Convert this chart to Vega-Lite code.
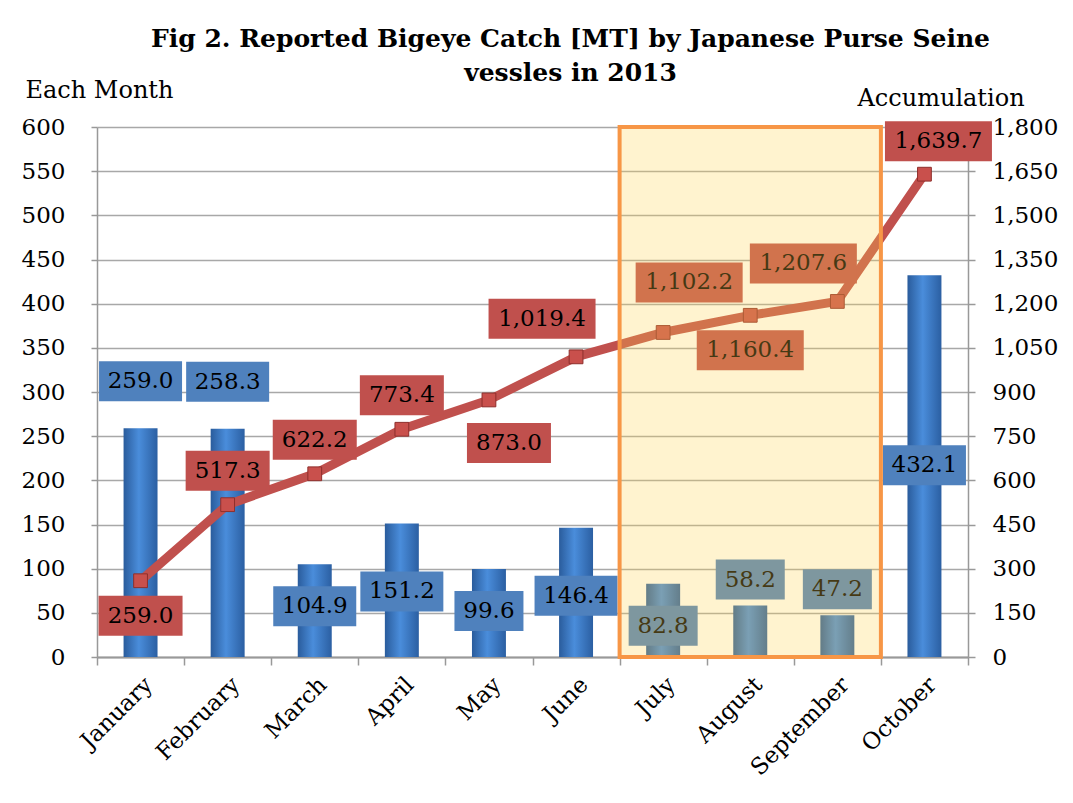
{
  "$schema": "https://vega.github.io/schema/vega-lite/v6.json",
  "width": 871,
  "height": 530,
  "autosize": {"type": "none"},
  "padding": {"left": 97, "top": 127, "right": 105, "bottom": 146},
  "background": "white",
  "config": {"font": "DejaVu Serif", "view": {"stroke": null}},
  "title": {
    "text": ["Fig 2. Reported Bigeye Catch [MT] by Japanese Purse Seine", "vessles in 2013"],
    "font": "DejaVu Serif", "fontSize": 25, "fontWeight": "bold", "color": "#000",
    "anchor": "middle", "frame": "group", "dx": 38, "offset": -8, "lineHeight": 34
  },
  "data": {"values": [
    {"month": "January", "catch": 259.0, "accum": 259.0, "barPos": "above", "linePos": "below"},
    {"month": "February", "catch": 258.3, "accum": 517.3, "barPos": "above", "linePos": "above"},
    {"month": "March", "catch": 104.9, "accum": 622.2, "barPos": "inside", "linePos": "above"},
    {"month": "April", "catch": 151.2, "accum": 773.4, "barPos": "deep", "linePos": "above"},
    {"month": "May", "catch": 99.6, "accum": 873.0, "barPos": "inside", "linePos": "belowRight"},
    {"month": "June", "catch": 146.4, "accum": 1019.4, "barPos": "deep", "linePos": "aboveLeft"},
    {"month": "July", "catch": 82.8, "accum": 1102.2, "barPos": "inside", "linePos": "highRight"},
    {"month": "August", "catch": 58.2, "accum": 1160.4, "barPos": "over", "linePos": "below"},
    {"month": "September", "catch": 47.2, "accum": 1207.6, "barPos": "over", "linePos": "aboveLeft"},
    {"month": "October", "catch": 432.1, "accum": 1639.7, "barPos": "middle", "linePos": "aboveRight"}
  ]},
  "layer": [
    {
      "encoding": {
        "x": {
          "field": "month", "type": "ordinal", "sort": null,
          "scale": {"domain": ["January","February","March","April","May","June","July","August","September","October"], "paddingInner": 0, "paddingOuter": 0},
          "axis": {
            "title": null, "labelAngle": -45, "labelAlign": "right", "labelBaseline": "top",
            "labelFont": "DejaVu Serif", "labelFontStyle": "normal", "labelFontSize": 23, "labelColor": "#000",
            "labelPadding": 8, "tickBand": "extent", "tickSize": 8, "tickColor": "#999", "tickWidth": 1.5,
            "domainColor": "#999", "domainWidth": 2, "grid": false
          }
        },
        "y": {
          "field": "catch", "type": "quantitative", "stack": null,
          "scale": {"domain": [0, 600], "nice": false, "zero": true},
          "axis": {
            "orient": "left", "values": [0,50,100,150,200,250,300,350,400,450,500,550,600],
            "title": "Each Month", "titleAngle": 0, "titleAlign": "left", "titleBaseline": "middle",
            "titleX": -72, "titleY": -37, "titleFont": "DejaVu Serif", "titleFontSize": 24,
            "titleFontWeight": "normal", "titleColor": "#000",
            "labelFont": "DejaVu Serif", "labelFontSize": 23, "labelColor": "#000", "labelPadding": 26,
            "tickSize": 6, "tickColor": "#999", "tickWidth": 1.5, "domainColor": "#999", "domainWidth": 1.5,
            "grid": true, "gridColor": "#a8a8a8", "gridWidth": 1.5
          }
        }
      },
      "layer": [
        {
          "mark": {"type": "bar", "width": {"band": 0.39},
            "color": {"gradient": "linear", "x1": 0, "y1": 0, "x2": 1, "y2": 0,
              "stops": [{"offset": 0, "color": "#2a5c9c"}, {"offset": 0.45, "color": "#4a8ddb"}, {"offset": 1, "color": "#2b5fa2"}]}}
        },
        {
          "transform": [{"filter": "datum.barPos === 'above'"}],
          "mark": {"type": "bar", "color": "#4f81bd", "yOffset": -67, "y2Offset": -27},
          "encoding": {"y2": {"field": "catch"}, "size": {"field": "catch", "type": "quantitative", "scale": {"type": "threshold", "domain": [100], "range": [69, 83]}, "legend": null}}
        },
        {
          "transform": [{"filter": "datum.barPos === 'above'"}],
          "mark": {"type": "text", "dy": -47, "fontSize": 23, "font": "DejaVu Serif", "color": "#000", "baseline": "middle"},
          "encoding": {"text": {"field": "catch", "type": "quantitative", "format": ".1f"}}
        },
        {
          "transform": [{"filter": "datum.barPos === 'inside'"}],
          "mark": {"type": "bar", "color": "#4f81bd", "yOffset": 22, "y2Offset": 62},
          "encoding": {"y2": {"field": "catch"}, "size": {"field": "catch", "type": "quantitative", "scale": {"type": "threshold", "domain": [100], "range": [69, 83]}, "legend": null}}
        },
        {
          "transform": [{"filter": "datum.barPos === 'inside'"}],
          "mark": {"type": "text", "dy": 42, "fontSize": 23, "font": "DejaVu Serif", "color": "#000", "baseline": "middle"},
          "encoding": {"text": {"field": "catch", "type": "quantitative", "format": ".1f"}}
        },
        {
          "transform": [{"filter": "datum.barPos === 'deep'"}],
          "mark": {"type": "bar", "color": "#4f81bd", "yOffset": 48, "y2Offset": 88},
          "encoding": {"y2": {"field": "catch"}, "size": {"field": "catch", "type": "quantitative", "scale": {"type": "threshold", "domain": [100], "range": [69, 83]}, "legend": null}}
        },
        {
          "transform": [{"filter": "datum.barPos === 'deep'"}],
          "mark": {"type": "text", "dy": 68, "fontSize": 23, "font": "DejaVu Serif", "color": "#000", "baseline": "middle"},
          "encoding": {"text": {"field": "catch", "type": "quantitative", "format": ".1f"}}
        },
        {
          "transform": [{"filter": "datum.barPos === 'over'"}],
          "mark": {"type": "bar", "color": "#4f81bd", "yOffset": -46, "y2Offset": -6},
          "encoding": {"y2": {"field": "catch"}, "size": {"field": "catch", "type": "quantitative", "scale": {"type": "threshold", "domain": [100], "range": [69, 83]}, "legend": null}}
        },
        {
          "transform": [{"filter": "datum.barPos === 'over'"}],
          "mark": {"type": "text", "dy": -26, "fontSize": 23, "font": "DejaVu Serif", "color": "#000", "baseline": "middle"},
          "encoding": {"text": {"field": "catch", "type": "quantitative", "format": ".1f"}}
        },
        {
          "transform": [{"filter": "datum.barPos === 'middle'"}],
          "mark": {"type": "bar", "color": "#4f81bd", "yOffset": 170, "y2Offset": 210},
          "encoding": {"y2": {"field": "catch"}, "size": {"field": "catch", "type": "quantitative", "scale": {"type": "threshold", "domain": [100], "range": [69, 83]}, "legend": null}}
        },
        {
          "transform": [{"filter": "datum.barPos === 'middle'"}],
          "mark": {"type": "text", "dy": 190, "fontSize": 23, "font": "DejaVu Serif", "color": "#000", "baseline": "middle"},
          "encoding": {"text": {"field": "catch", "type": "quantitative", "format": ".1f"}}
        }
      ]
    },
    {
      "encoding": {
        "x": {"field": "month", "type": "ordinal", "sort": null,
          "scale": {"domain": ["January","February","March","April","May","June","July","August","September","October"], "paddingInner": 0, "paddingOuter": 0}},
        "y": {
          "field": "accum", "type": "quantitative", "stack": null,
          "scale": {"domain": [0, 1800], "nice": false, "zero": true},
          "axis": {
            "orient": "right", "values": [0,150,300,450,600,750,900,1050,1200,1350,1500,1650,1800], "format": ",.0f",
            "title": "Accumulation", "titleAngle": 0, "titleAlign": "left", "titleBaseline": "middle",
            "titleX": -111, "titleY": -29, "titleFont": "DejaVu Serif", "titleFontSize": 24,
            "titleFontWeight": "normal", "titleColor": "#000",
            "labelFont": "DejaVu Serif", "labelFontSize": 23, "labelColor": "#000", "labelPadding": 17,
            "tickSize": 7, "tickColor": "#999", "tickWidth": 1.5, "domainColor": "#999", "domainWidth": 1.5,
            "grid": false
          }
        }
      },
      "layer": [
        {
          "mark": {"type": "line", "color": "#c0504d", "strokeWidth": 9},
          "encoding": {"order": {"field": "accum", "type": "quantitative"}}
        },
        {
          "mark": {"type": "point", "shape": "square", "filled": true, "size": 190, "color": "#c9504c", "stroke": "#8e2f2c", "strokeWidth": 1, "opacity": 1}
        },
        {
          "transform": [{"filter": "datum.linePos === 'below'"}],
          "mark": {"type": "bar", "color": "#c0504d", "yOffset": 15, "y2Offset": 55},
          "encoding": {"y2": {"field": "accum"}, "size": {"field": "accum", "type": "quantitative", "scale": {"type": "threshold", "domain": [1000], "range": [84, 107]}, "legend": null}}
        },
        {
          "transform": [{"filter": "datum.linePos === 'below'"}],
          "mark": {"type": "text", "dy": 35, "fontSize": 23, "font": "DejaVu Serif", "color": "#000", "baseline": "middle"},
          "encoding": {"text": {"field": "accum", "type": "quantitative", "format": ",.1f"}}
        },
        {
          "transform": [{"filter": "datum.linePos === 'above'"}],
          "mark": {"type": "bar", "color": "#c0504d", "yOffset": -54, "y2Offset": -14},
          "encoding": {"y2": {"field": "accum"}, "size": {"field": "accum", "type": "quantitative", "scale": {"type": "threshold", "domain": [1000], "range": [84, 107]}, "legend": null}}
        },
        {
          "transform": [{"filter": "datum.linePos === 'above'"}],
          "mark": {"type": "text", "dy": -34, "fontSize": 23, "font": "DejaVu Serif", "color": "#000", "baseline": "middle"},
          "encoding": {"text": {"field": "accum", "type": "quantitative", "format": ",.1f"}}
        },
        {
          "transform": [{"filter": "datum.linePos === 'belowRight'"}],
          "mark": {"type": "bar", "color": "#c0504d", "xOffset": 20, "yOffset": 23, "y2Offset": 63},
          "encoding": {"y2": {"field": "accum"}, "size": {"field": "accum", "type": "quantitative", "scale": {"type": "threshold", "domain": [1000], "range": [84, 107]}, "legend": null}}
        },
        {
          "transform": [{"filter": "datum.linePos === 'belowRight'"}],
          "mark": {"type": "text", "dx": 20, "dy": 43, "fontSize": 23, "font": "DejaVu Serif", "color": "#000", "baseline": "middle"},
          "encoding": {"text": {"field": "accum", "type": "quantitative", "format": ",.1f"}}
        },
        {
          "transform": [{"filter": "datum.linePos === 'aboveLeft'"}],
          "mark": {"type": "bar", "color": "#c0504d", "xOffset": -34, "yOffset": -58, "y2Offset": -18},
          "encoding": {"y2": {"field": "accum"}, "size": {"field": "accum", "type": "quantitative", "scale": {"type": "threshold", "domain": [1000], "range": [84, 107]}, "legend": null}}
        },
        {
          "transform": [{"filter": "datum.linePos === 'aboveLeft'"}],
          "mark": {"type": "text", "dx": -34, "dy": -38, "fontSize": 23, "font": "DejaVu Serif", "color": "#000", "baseline": "middle"},
          "encoding": {"text": {"field": "accum", "type": "quantitative", "format": ",.1f"}}
        },
        {
          "transform": [{"filter": "datum.linePos === 'highRight'"}],
          "mark": {"type": "bar", "color": "#c0504d", "xOffset": 26, "yOffset": -70, "y2Offset": -30},
          "encoding": {"y2": {"field": "accum"}, "size": {"field": "accum", "type": "quantitative", "scale": {"type": "threshold", "domain": [1000], "range": [84, 107]}, "legend": null}}
        },
        {
          "transform": [{"filter": "datum.linePos === 'highRight'"}],
          "mark": {"type": "text", "dx": 26, "dy": -50, "fontSize": 23, "font": "DejaVu Serif", "color": "#000", "baseline": "middle"},
          "encoding": {"text": {"field": "accum", "type": "quantitative", "format": ",.1f"}}
        },
        {
          "transform": [{"filter": "datum.linePos === 'aboveRight'"}],
          "mark": {"type": "bar", "color": "#c0504d", "xOffset": 14, "yOffset": -53, "y2Offset": -13},
          "encoding": {"y2": {"field": "accum"}, "size": {"field": "accum", "type": "quantitative", "scale": {"type": "threshold", "domain": [1000], "range": [84, 107]}, "legend": null}}
        },
        {
          "transform": [{"filter": "datum.linePos === 'aboveRight'"}],
          "mark": {"type": "text", "dx": 14, "dy": -33, "fontSize": 23, "font": "DejaVu Serif", "color": "#000", "baseline": "middle"},
          "encoding": {"text": {"field": "accum", "type": "quantitative", "format": ",.1f"}}
        }
      ]
    },
    {
      "data": {"values": [{"from": "July", "to": "September"}]},
      "mark": {"type": "rect", "fill": "#ffd34d", "fillOpacity": 0.27, "stroke": "#f79646", "strokeOpacity": 1, "strokeWidth": 4},
      "encoding": {
        "x": {"field": "from", "type": "ordinal", "bandPosition": 0,
          "scale": {"domain": ["January","February","March","April","May","June","July","August","September","October"], "paddingInner": 0, "paddingOuter": 0}},
        "x2": {"field": "to", "bandPosition": 1},
        "y": {"datum": 0, "type": "quantitative", "scale": {"domain": [0, 600], "nice": false}, "axis": null},
        "y2": {"datum": 600}
      }
    }
  ],
  "resolve": {"scale": {"y": "independent", "size": "independent"}}
}
